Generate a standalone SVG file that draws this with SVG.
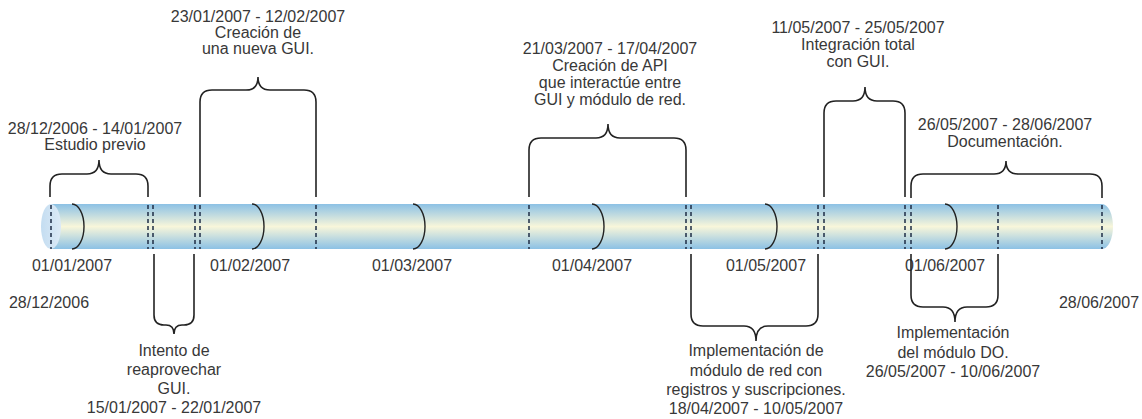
<svg xmlns="http://www.w3.org/2000/svg" width="1142" height="419" viewBox="0 0 1142 419">
  <defs>
    <linearGradient id="tubeFill" x1="0" y1="0" x2="0" y2="1">
      <stop offset="0" stop-color="#8cc1e5"/>
      <stop offset="0.5" stop-color="#f8f6da"/>
      <stop offset="1" stop-color="#8cc1e5"/>
    </linearGradient>
    <linearGradient id="capFill" x1="0" y1="0" x2="1" y2="0">
      <stop offset="0" stop-color="#c4ddf1"/>
      <stop offset="1" stop-color="#dceaf6"/>
    </linearGradient>
    <style>
      .lbl { font-family: "Liberation Sans", Arial, sans-serif; font-size: 16px; fill: #383838; text-anchor: middle; }
      .brace { fill: none; stroke: #222; stroke-width: 1.6; }
      .dash { stroke: #1e2d45; stroke-width: 1.5; stroke-dasharray: 4 3; fill: none; }
      .month { fill: none; stroke: #222; stroke-width: 1.4; }
    </style>
  </defs>

  <rect width="1142" height="419" fill="#ffffff"/>

  <!-- timeline tube -->
  <g id="tube">
    <ellipse cx="1102" cy="226.5" rx="11" ry="22.5" fill="url(#tubeFill)"/>
    <rect x="51" y="204" width="1051" height="45" fill="url(#tubeFill)"/>
    <ellipse cx="51" cy="226.5" rx="10" ry="22.5" fill="url(#capFill)"/>
  </g>

  <!-- month separators on the tube -->
  <g id="months">
    <path class="month" d="M72 204 A12 22.5 0 0 1 72 249"/>
    <path class="month" d="M252 204 A12 22.5 0 0 1 252 249"/>
    <path class="month" d="M413 204 A12 22.5 0 0 1 413 249"/>
    <path class="month" d="M592 204 A12 22.5 0 0 1 592 249"/>
    <path class="month" d="M765 204 A12 22.5 0 0 1 765 249"/>
    <path class="month" d="M945 204 A12 22.5 0 0 1 945 249"/>
  </g>

  <!-- phase boundaries -->
  <g id="boundaries">
    <path class="dash" d="M51 205 V249 M148 205 V249 M153 205 V249 M195 205 V249 M200 205 V249 M316 205 V249 M529 205 V249 M686 205 V249 M691 205 V249 M818 205 V249 M824 205 V249 M905 205 V249 M911 205 V249 M998 205 V249 M1102 205 V249"/>
  </g>

  <!-- month labels -->
  <g id="month-labels" class="lbl">
    <text x="72" y="271">01/01/2007</text>
    <text x="250" y="271">01/02/2007</text>
    <text x="412" y="271">01/03/2007</text>
    <text x="592" y="271">01/04/2007</text>
    <text x="766" y="271">01/05/2007</text>
    <text x="945" y="271">01/06/2007</text>
    <text x="49" y="308">28/12/2006</text>
    <text x="1099" y="308">28/06/2007</text>
  </g>

  <!-- braces -->
  <g id="connectors">
    <path class="brace" d="M50 197 V186 Q50 174 62 174 H87 Q99 174 99 160 Q99 174 111 174 H136 Q148 174 148 186 V197"/>
    <path class="brace" d="M200 197 V102 Q200 90 212 90 H246 Q258 90 258 77 Q258 90 270 90 H304 Q316 90 316 102 V197"/>
    <path class="brace" d="M529 197 V150 Q529 138 541 138 H596 Q608 138 608 124 Q608 138 620 138 H674 Q686 138 686 150 V197"/>
    <path class="brace" d="M824 197 V113 Q824 101 836 101 H853 Q865 101 865 87 Q865 101 877 101 H893 Q905 101 905 113 V197"/>
    <path class="brace" d="M911 198 V186 Q911 174 923 174 H994 Q1006 174 1006 161 Q1006 174 1018 174 H1090 Q1102 174 1102 186 V198"/>
    <path class="brace" d="M154 254 V315 Q154 325 164 325 H166 Q174 325 174 334 Q174 325 182 325 H184 Q194 325 194 315 V254"/>
    <path class="brace" d="M691 254 V314 Q691 326 703 326 H744 Q756 326 756 341 Q756 326 768 326 H806 Q818 326 818 314 V254"/>
    <path class="brace" d="M911 254 V295 Q911 307 923 307 H943 Q955 307 955 322 Q955 307 967 307 H986 Q998 307 998 295 V254"/>
  </g>

  <!-- phases -->
  <g id="phase-estudio" class="lbl">
    <text x="95" y="134">28/12/2006 - 14/01/2007</text>
    <text x="95" y="150">Estudio previo</text>
  </g>
  <g id="phase-nueva-gui" class="lbl">
    <text x="258" y="22">23/01/2007 - 12/02/2007</text>
    <text x="258" y="38">Creación de</text>
    <text x="258" y="54">una nueva GUI.</text>
  </g>
  <g id="phase-api" class="lbl">
    <text x="610" y="54">21/03/2007 - 17/04/2007</text>
    <text x="610" y="71">Creación de API</text>
    <text x="610" y="88">que interactúe entre</text>
    <text x="610" y="105">GUI y módulo de red.</text>
  </g>
  <g id="phase-integracion" class="lbl">
    <text x="858" y="33">11/05/2007 - 25/05/2007</text>
    <text x="858" y="50">Integración total</text>
    <text x="858" y="67">con GUI.</text>
  </g>
  <g id="phase-documentacion" class="lbl">
    <text x="1005" y="130">26/05/2007 - 28/06/2007</text>
    <text x="1005" y="147">Documentación.</text>
  </g>
  <g id="phase-reaprovechar" class="lbl">
    <text x="174" y="356">Intento de</text>
    <text x="174" y="375">reaprovechar</text>
    <text x="174" y="394">GUI.</text>
    <text x="174" y="413">15/01/2007 - 22/01/2007</text>
  </g>
  <g id="phase-red" class="lbl">
    <text x="756" y="356">Implementación de</text>
    <text x="756" y="375.5">módulo de red con</text>
    <text x="756" y="395">registros y suscripciones.</text>
    <text x="756" y="414">18/04/2007 - 10/05/2007</text>
  </g>
  <g id="phase-do" class="lbl">
    <text x="953" y="338">Implementación</text>
    <text x="953" y="357.5">del módulo DO.</text>
    <text x="953" y="377">26/05/2007 - 10/06/2007</text>
  </g>
</svg>
